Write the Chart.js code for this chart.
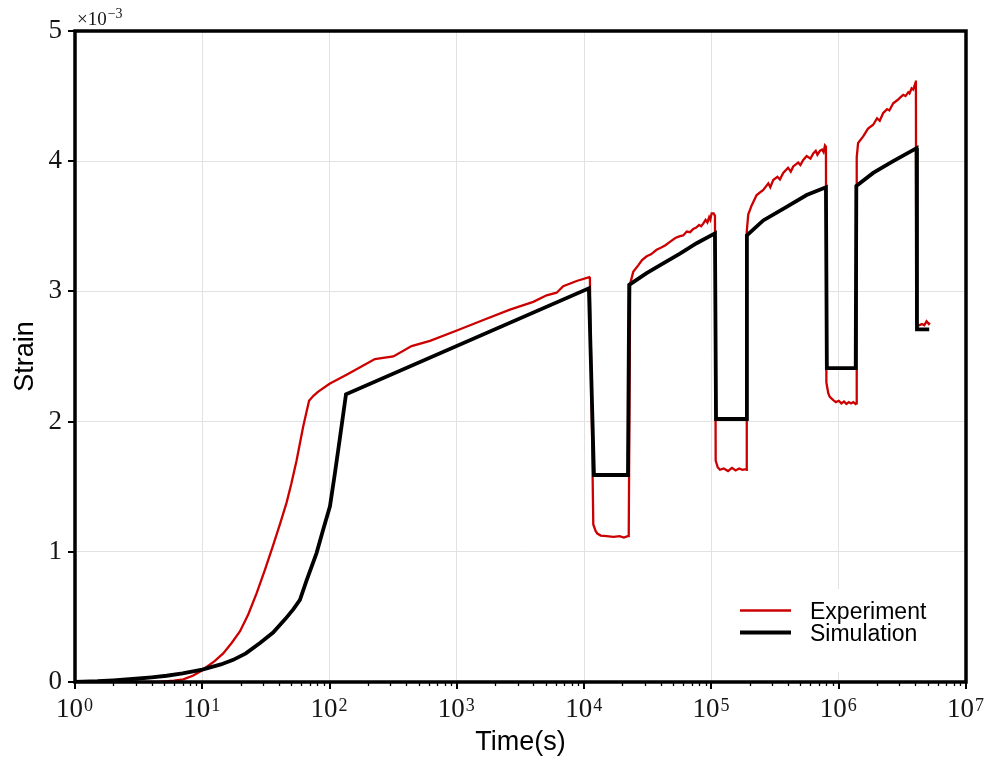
<!DOCTYPE html>
<html>
<head>
<meta charset="utf-8">
<script src="https://cdn.jsdelivr.net/npm/chart.js@4"></script>
<style>
html,body{margin:0;padding:0;background:#fff;}
#wrap{width:987px;height:762px;position:relative;}
</style>
</head>
<body>
<div id="wrap"><canvas id="c" width="987" height="762"></canvas></div>
<script>
// ---- data (strain in units of 1e-3) ----
const xTickExponents = [0, 1, 2, 3, 4, 5, 6, 7];
const yTickValues = [0, 1, 2, 3, 4, 5];
const seriesNames = ["Experiment", "Simulation"];

const expTime = [1, 4.5, 6, 7.1, 8.5, 10, 10.8, 12.5, 14.6, 17, 19.8, 23, 26.7, 31, 36, 41, 46, 50, 55, 62, 69, 75, 81.5, 100, 136, 184, 227, 317, 441, 615, 1000, 1614, 2612, 3985, 5070, 6080, 6850, 8730, 10970,
  11100, 11800, 12300, 12700, 13500, 15000, 17000, 19000, 20500, 22000, 22400,
  23000, 24300, 26600, 28500, 31000, 33500, 35000, 37100, 40000, 43500, 47200, 52000, 56600, 60000, 64000, 68000, 71900, 76000, 80000, 83000, 86200, 90000, 93000, 96000, 98000, 100400, 104000, 106600,
  108000, 109600, 112000, 116700, 125000, 135000, 145000, 155000, 165000, 175000, 186000, 189000,
  189500, 194600, 207000, 226600, 255400, 280000, 290000, 305900, 330000, 345000, 366300, 400000, 420000, 439300, 480000, 500000, 526600, 560000, 600000, 631000, 660000, 680000, 711700, 740000, 760000, 780000, 793700,
  800000, 827000, 850000, 906000, 950000, 1.0e6, 1.05e6, 1.1e6, 1.15e6, 1.2e6, 1.25e6, 1.3e6, 1.36e6, 1.38e6,
  1.385e6, 1.42e6, 1.557e6, 1.7e6, 1.866e6, 2.0e6, 2.1e6, 2.237e6, 2.4e6, 2.5e6, 2.68e6, 2.9e6, 3.05e6, 3.21e6, 3.35e6, 3.52e6, 3.6e6, 3.74e6, 3.85e6, 4.0e6, 4.04e6,
  4.07e6, 4.3e6, 4.5e6, 4.7e6, 4.9e6, 5.1e6, 5.2e6];
const expStrain = [0, 0, 0.01, 0.02, 0.05, 0.09, 0.115, 0.16, 0.22, 0.30, 0.39, 0.52, 0.68, 0.86, 1.05, 1.22, 1.38, 1.52, 1.70, 1.96, 2.16, 2.20, 2.23, 2.29, 2.36, 2.43, 2.48, 2.50, 2.58, 2.62, 2.70, 2.78, 2.86, 2.92, 2.97, 2.99, 3.04, 3.08, 3.11,
  3.10, 1.21, 1.16, 1.14, 1.125, 1.12, 1.115, 1.12, 1.11, 1.12, 1.12,
  3.06, 3.15, 3.20, 3.24, 3.27, 3.285, 3.30, 3.32, 3.335, 3.355, 3.38, 3.41, 3.425, 3.43, 3.46, 3.455, 3.48, 3.49, 3.51, 3.50, 3.52, 3.55, 3.53, 3.57, 3.55, 3.60, 3.60, 3.58,
  1.70, 1.68, 1.65, 1.63, 1.64, 1.62, 1.645, 1.625, 1.64, 1.63, 1.635, 1.63,
  3.46, 3.59, 3.66, 3.74, 3.78, 3.83, 3.80, 3.855, 3.88, 3.86, 3.91, 3.95, 3.92, 3.96, 3.99, 3.97, 4.01, 4.04, 4.02, 4.06, 4.08, 4.05, 4.08, 4.09, 4.07, 4.12, 4.11,
  2.30, 2.22, 2.19, 2.165, 2.15, 2.16, 2.14, 2.155, 2.135, 2.15, 2.14, 2.15, 2.135, 2.14,
  4.03, 4.14, 4.19, 4.25, 4.28, 4.33, 4.31, 4.37, 4.40, 4.39, 4.445, 4.47, 4.49, 4.51, 4.50, 4.53, 4.52, 4.56, 4.55, 4.60, 4.62,
  2.75, 2.74, 2.75, 2.74, 2.77, 2.75, 2.76];

const simTime = [1, 1.5, 2, 3, 4, 5.25, 7, 10, 14, 17.5, 22, 28.4, 36, 45, 52, 58.5, 66, 79, 89, 100.7, 110, 120.8, 134.6, 10900,
  11940, 22100, 22600, 30970, 41800, 56600, 76500, 106600,
  108700, 187000, 190000, 255400, 389700, 559700, 793700,
  807000, 1.36e6, 1.375e6, 1.866e6, 2.68e6, 4.09e6,
  4.12e6, 5.14e6];
const simStrain = [0, 0.006, 0.013, 0.025, 0.036, 0.048, 0.066, 0.095, 0.135, 0.17, 0.22, 0.30, 0.38, 0.485, 0.56, 0.63, 0.78, 0.99, 1.17, 1.35, 1.60, 1.88, 2.21, 3.024,
  1.59, 1.59, 3.05, 3.14, 3.215, 3.29, 3.37, 3.446,
  2.02, 2.02, 3.43, 3.545, 3.65, 3.74, 3.80,
  2.41, 2.41, 3.81, 3.91, 4.00, 4.10,
  2.709, 2.709];

const RED = '#cc0000';
const SERIF = '"Liberation Serif", "DejaVu Serif", serif';
const SANS = '"Liberation Sans", Arial, sans-serif';

const toPts = (xs, ys) => xs.map((x, i) => ({x: x, y: ys[i]}));

const decor = {
  id: 'decor',
  afterDatasetsDraw(chart) {
    const ctx = chart.ctx;
    // legend
    ctx.save();
    ctx.fillStyle = '#fff';
    ctx.fillRect(728, 589, 222, 83);
    const items = [[seriesNames[0], RED, 2.3, 610.5, 619], [seriesNames[1], '#000', 3.8, 632.5, 641]];
    ctx.font = '23px ' + SANS;
    ctx.textBaseline = 'alphabetic';
    ctx.textAlign = 'left';
    for (const it of items) {
      ctx.strokeStyle = it[1];
      ctx.lineWidth = it[2];
      ctx.beginPath();
      ctx.moveTo(740, it[3]);
      ctx.lineTo(791, it[3]);
      ctx.stroke();
      ctx.fillStyle = '#000';
      ctx.fillText(it[0], 810, it[4]);
    }
    ctx.restore();
  },
  afterDraw(chart) {
    const ctx = chart.ctx;
    const a = chart.chartArea;
    const xs = chart.scales.x, ys = chart.scales.y;
    ctx.save();
    // ticks
    ctx.strokeStyle = '#000';
    ctx.lineWidth = 2;
    ctx.beginPath();
    for (const k of xTickExponents) {
      const px = Math.round(xs.getPixelForValue(Math.pow(10, k)));
      ctx.moveTo(px, a.bottom); ctx.lineTo(px, a.bottom + 7);
    }
    for (const v of yTickValues) {
      const py = Math.round(ys.getPixelForValue(v));
      ctx.moveTo(a.left, py); ctx.lineTo(a.left - 7, py);
    }
    ctx.stroke();
    ctx.lineWidth = 1.3;
    ctx.beginPath();
    for (let k = xTickExponents[0]; k < xTickExponents[xTickExponents.length - 1]; k++) {
      for (let m = 2; m <= 9; m++) {
        const px = Math.round(xs.getPixelForValue(m * Math.pow(10, k))) + 0.5;
        ctx.moveTo(px, a.bottom); ctx.lineTo(px, a.bottom + 4);
      }
    }
    ctx.stroke();
    // frame
    ctx.lineWidth = 3.5;
    ctx.strokeRect(a.left, a.top, a.right - a.left, a.bottom - a.top);
    // x tick labels 10^k
    ctx.fillStyle = '#151515';
    ctx.textBaseline = 'alphabetic';
    ctx.textAlign = 'left';
    for (const k of xTickExponents) {
      const px = xs.getPixelForValue(Math.pow(10, k));
      ctx.font = '27px ' + SERIF;
      const wb = ctx.measureText('10').width;
      ctx.font = '18px ' + SERIF;
      const we = ctx.measureText(String(k)).width;
      const x0 = px - (wb + we) / 2 - 1;
      ctx.font = '27px ' + SERIF;
      ctx.fillText('10', x0, 717);
      ctx.font = '18px ' + SERIF;
      ctx.fillText(String(k), x0 + wb + 1, 711);
    }
    // multiplier
    ctx.font = '19px ' + SERIF;
    ctx.fillText('\u00d710', 77, 25);
    const wm = ctx.measureText('\u00d710').width;
    ctx.font = '14px ' + SERIF;
    ctx.fillText('\u22123', 77 + wm + 1, 18);
    ctx.restore();
  }
};

new Chart(document.getElementById('c'), {
  type: 'line',
  data: {
    datasets: [
      {label: seriesNames[0], data: toPts(expTime, expStrain), borderColor: RED, borderWidth: 2.3, pointRadius: 0, tension: 0, fill: false, order: 2},
      {label: seriesNames[1], data: toPts(simTime, simStrain), borderColor: '#000', borderWidth: 3.8, pointRadius: 0, tension: 0, fill: false, order: 1}
    ]
  },
  options: {
    responsive: false,
    animation: false,
    events: [],
    layout: {padding: {left: 0, right: 21, top: 31, bottom: 0}},
    plugins: {legend: {display: false}, tooltip: {enabled: false}},
    scales: {
      x: {
        type: 'logarithmic',
        min: 1, max: 1e7,
        afterBuildTicks: (s) => { s.ticks = xTickExponents.map(k => ({value: Math.pow(10, k)})); },
        afterFit: (s) => { s.height = 80; },
        ticks: {callback: () => '', autoSkip: false, maxRotation: 0},
        grid: {color: '#e2e2e2', lineWidth: 1, drawTicks: false},
        border: {display: false},
        title: {display: true, text: 'Time(s)', font: {family: SANS, size: 27}, color: '#000', padding: {top: 0, bottom: 3}}
      },
      y: {
        min: 0, max: 5,
        afterBuildTicks: (s) => { s.ticks = yTickValues.map(v => ({value: v})); },
        afterFit: (s) => { s.width = 75; },
        ticks: {font: {family: SERIF, size: 27}, color: '#151515', padding: 13},
        grid: {color: '#e2e2e2', lineWidth: 1, drawTicks: false},
        border: {display: false},
        title: {display: true, text: 'Strain', font: {family: SANS, size: 27}, color: '#000', padding: {top: 9, bottom: 0}}
      }
    }
  },
  plugins: [decor]
});
</script>
</body>
</html>
